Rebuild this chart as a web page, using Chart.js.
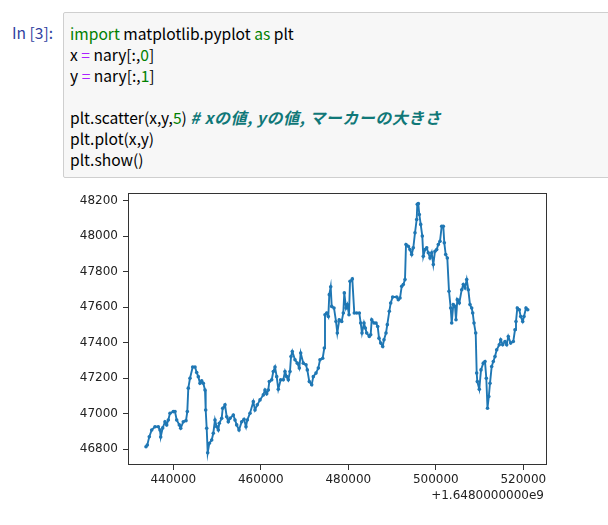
<!DOCTYPE html>
<html>
<head>
<meta charset="utf-8">
<script src="https://cdn.jsdelivr.net/npm/chart.js@4.4.0/dist/chart.umd.min.js"></script>
<style>
    body { margin: 0; background: #fff; width: 608px; height: 525px; overflow: hidden; position: relative; font-family: "Noto Sans CJK JP", sans-serif; }
    .prompt { position: absolute; left: 12px; top: 22px; color: #303F9F; font-size: 15.6px; line-height: 21px; }
    .cell { position: absolute; left: 63px; top: 12px; width: 560px; height: 164px; background: #f7f7f7; border: 1px solid #cfcfcf; border-radius: 2px; }
    .cell pre { margin: 0; padding: 10px 0 0 6px; font-family: inherit; font-size: 15.6px; line-height: 21px; color: #000; }
    .kw { color: #008000; }
    .op { color: #AA22FF; }
    .num { color: #008000; }
    .cm { color: #107878; font-style: italic; font-weight: bold; font-size: 16px; letter-spacing: 0.5px; }
    #chart { position: absolute; left: 0; top: 0; }
</style>
</head>
<body>
<div class="prompt">In&nbsp;[3]:</div>
<div class="cell"><pre><span class="kw">import</span> matplotlib.pyplot <span class="kw">as</span> plt
x <span class="op">=</span> nary[:,<span class="num">0</span>]
y <span class="op">=</span> nary[:,<span class="num">1</span>]

plt.scatter(x,y,<span class="num">5</span>) <span class="cm"># xの値, yの値, マーカーの大きさ</span>
plt.plot(x,y)
plt.show()</pre></div>
<canvas id="chart" width="608" height="525"></canvas>
<script>
// x is shown as an offset from 1.648e9 (matplotlib offset text)
const X_BASE = 1.648e9
const xOffsets = [
    433760, 434057, 434514, 435063, 435817, 436571, 436960, 437120, 437577, 438103,
    438491, 438857, 439246, 440000, 440389, 440777, 441371, 441691, 442286, 442903,
    443200, 443429, 443817, 444434, 444960, 445349, 445714, 446103, 446491, 446857,
    447246, 447406, 447634, 447863, 448229, 448777, 449143, 449531, 449920, 450286,
    450514, 451063, 451291, 451817, 452206, 452571, 452960, 453714, 454103, 454491,
    455017, 455634, 456160, 456617, 456914, 457531, 458286, 458674, 459200, 459817,
    460571, 460960, 461349, 461714, 461943, 462491, 462857, 463246, 463634, 464000,
    464549, 465143, 465531, 465920, 466286, 466674, 466903, 467200, 467817, 468343,
    468800, 469120, 469714, 470331, 470629, 471086, 471634, 472000, 472617, 473143,
    473531, 474149, 474514, 474674, 475063, 475429, 475657, 475977, 476206, 476731,
    477189, 477486, 477943, 478491, 478857, 479086, 479474, 479771, 480160, 480389,
    480914, 481371, 481920, 482514, 482834, 483131, 483589, 483886, 484206, 484800,
    485120, 485349, 485874, 486331, 486720, 487017, 487406, 487863, 488160, 488617,
    488914, 489371, 489691, 490149, 491063, 491429, 491817, 492206, 492571, 492960,
    493189, 493714, 494103, 494491, 494857, 495246, 495634, 495771, 496000, 496229,
    496549, 496914, 497143, 497531, 497920, 498286, 498674, 499063, 499429, 499817,
    500206, 500571, 500960, 501349, 501714, 501943, 502263, 502629, 503017, 503406,
    503634, 504000, 504389, 504617, 504914, 505371, 505920, 506286, 506674, 507063,
    507429, 507817, 508206, 508434, 508731, 509120, 509349, 509486, 509943, 510331,
    510857, 511246, 511543, 511817, 512114, 512389, 512777, 513143, 513531, 513920,
    514514, 514834, 515291, 515817, 516206, 516571, 517120, 517714, 518103, 518331,
    518629, 519086, 519406, 519863, 520160, 520617, 521006,
]
const yValues = [
    46813, 46823, 46869, 46907, 46926, 46926, 46907, 46868, 46919, 46954,
    46936, 46964, 47002, 47011, 47011, 46964, 46936, 46917, 46954, 46960,
    47011, 47143, 47199, 47262, 47262, 47231, 47208, 47171, 47184, 47171,
    47133, 47020, 46917, 46779, 46832, 46851, 46889, 46964, 46926, 46907,
    46945, 46973, 47030, 47049, 46982, 46954, 46973, 46992, 46964, 46936,
    46907, 46954, 46968, 46926, 46964, 47002, 47067, 47020, 47049, 47077,
    47105, 47133, 47111, 47133, 47180, 47190, 47237, 47262, 47208, 47137,
    47190, 47190, 47237, 47208, 47190, 47237, 47321, 47350, 47303, 47284,
    47256, 47341, 47284, 47275, 47246, 47180, 47162, 47208, 47228, 47256,
    47303, 47312, 47369, 47557, 47567, 47547, 47670, 47714, 47604, 47595,
    47519, 47454, 47529, 47519, 47567, 47680, 47595, 47614, 47557, 47745,
    47759, 47567, 47567, 47567, 47510, 47454, 47510, 47482, 47454, 47434,
    47444, 47529, 47510, 47510, 47491, 47425, 47397, 47378, 47416, 47454,
    47501, 47576, 47623, 47657, 47657, 47642, 47651, 47717, 47727, 47755,
    47953, 47943, 47924, 47896, 47934, 48019, 48094, 48179, 48183, 48122,
    48066, 48000, 47886, 47924, 47934, 47906, 47877, 47906, 47840, 47915,
    47924, 47953, 47971, 48056, 48056, 47962, 47896, 47877, 47689, 47595,
    47510, 47614, 47604, 47529, 47642, 47623, 47698, 47727, 47708, 47755,
    47698, 47614, 47595, 47567, 47510, 47454, 47228, 47180, 47137, 47246,
    47284, 47293, 47199, 47030, 47096, 47171, 47265, 47293, 47321, 47359,
    47388, 47416, 47388, 47406, 47388, 47434, 47397, 47406, 47472, 47519,
    47595, 47585, 47547, 47519, 47547, 47595, 47585,
]
const xTicks = [440000, 460000, 480000, 500000, 520000]
const yTicks = [46800, 47000, 47200, 47400, 47600, 47800, 48000, 48200]
const xLimits = [429646, 525417]
const yLimits = [46710, 48243]
const offsetLabel = '+1.6480000000e9'

const points = xOffsets.map((x, i) => ({ x: x, y: yValues[i] }))

// full box around the axes + matplotlib offset text
const framePlugin = {
    id: 'frame',
    afterDraw(chart) {
        const { ctx, chartArea } = chart
        ctx.save()
        ctx.strokeStyle = '#333'
        ctx.lineWidth = 1
        ctx.strokeRect(chartArea.left + 0.5, chartArea.top + 0.5,
            chartArea.right - chartArea.left - 1, chartArea.bottom - chartArea.top - 1)
        ctx.fillStyle = '#222'
        ctx.font = '12px "DejaVu Sans"'
        ctx.textAlign = 'right'
        ctx.textBaseline = 'middle'
        ctx.fillText(offsetLabel, chartArea.right - 3, chartArea.bottom + 31)
        ctx.restore()
    },
}

const tickFont = { family: 'DejaVu Sans', size: 12 }

new Chart(document.getElementById('chart'), {
    type: 'scatter',
    data: {
        datasets: [
            {
                data: points,
                showLine: true,
                borderColor: '#1f77b4',
                backgroundColor: '#1f77b4',
                borderWidth: 1.9,
                pointRadius: 1.8,
                pointBorderWidth: 0,
                pointHoverRadius: 1.8,
                tension: 0,
            },
        ],
    },
    options: {
        responsive: false,
        animation: false,
        events: [],
        layout: { padding: { left: 0, right: 61, top: 193, bottom: 0 } },
        plugins: { legend: { display: false }, tooltip: { enabled: false } },
        scales: {
            x: {
                type: 'linear',
                min: xLimits[0],
                max: xLimits[1],
                afterBuildTicks: (scale) => {
                    scale.ticks = xTicks.map((v) => ({ value: v }))
                },
                afterFit: (scale) => {
                    scale.height = 60
                },
                border: { display: false },
                grid: { drawOnChartArea: false, drawTicks: true, tickLength: 5, color: '#333' },
                ticks: {
                    color: '#222',
                    font: tickFont,
                    padding: 3,
                    maxRotation: 0,
                    callback: (v) => String(v),
                },
            },
            y: {
                type: 'linear',
                min: yLimits[0],
                max: yLimits[1],
                afterBuildTicks: (scale) => {
                    scale.ticks = yTicks.map((v) => ({ value: v }))
                },
                afterFit: (scale) => {
                    scale.width = 128
                },
                border: { display: false },
                grid: { drawOnChartArea: false, drawTicks: true, tickLength: 5, color: '#333' },
                ticks: {
                    color: '#222',
                    font: tickFont,
                    padding: 5,
                    callback: (v) => String(v),
                },
            },
        },
    },
    plugins: [framePlugin],
})
</script>
</body>
</html>
